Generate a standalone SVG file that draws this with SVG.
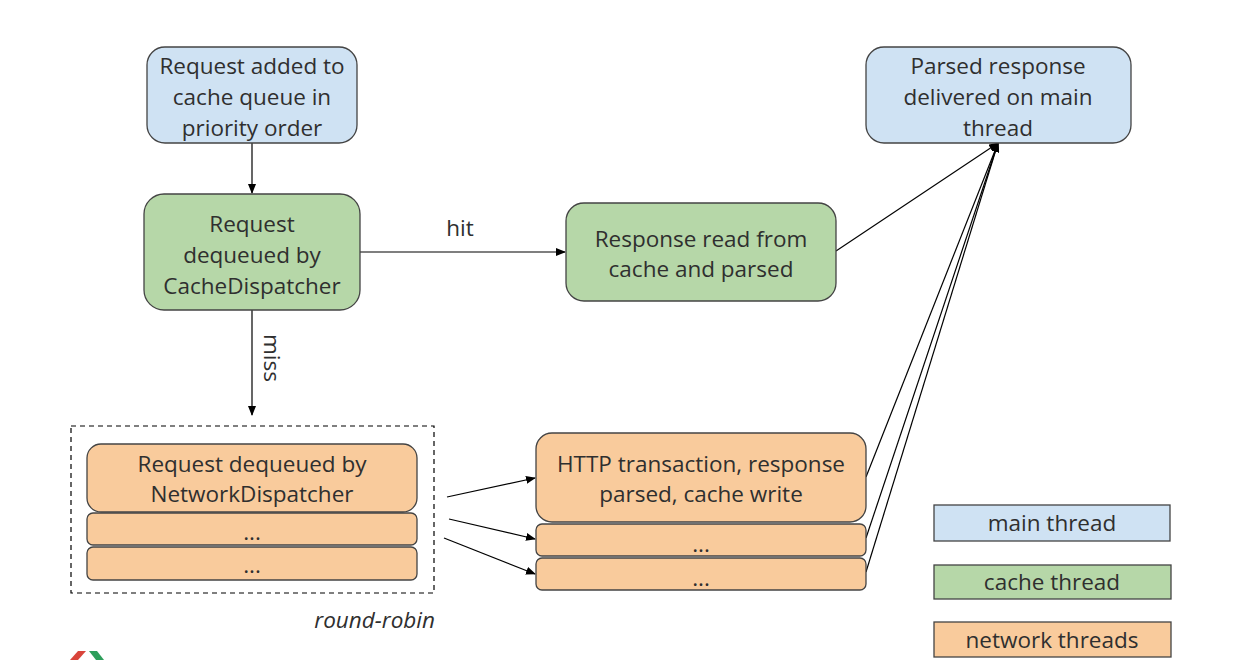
<svg xmlns="http://www.w3.org/2000/svg" width="1242" height="660" viewBox="0 0 1242 660">
<defs>
<marker id="ah" markerWidth="10" markerHeight="8" refX="9" refY="4" orient="auto" markerUnits="userSpaceOnUse">
<path d="M0,0 L10,4 L0,8 Z" fill="#000"/>
</marker>
<style>
.t{font-family:"Open Sans","Noto Sans",sans-serif;font-size:22.5px;fill:#2f2f2f;text-anchor:middle;dominant-baseline:central}
.box{stroke:#444;stroke-width:1.3}
.blue{fill:#cfe2f3}.green{fill:#b6d7a8}.orange{fill:#f9cb9c}
.c{stroke:#000;stroke-width:1.2;fill:none}
</style>
</defs>
<rect width="1242" height="660" fill="#fff"/>
<g id="connectors">
<line class="c" x1="252" y1="143" x2="252" y2="193" marker-end="url(#ah)"/>
<line class="c" x1="360" y1="252" x2="565" y2="252" marker-end="url(#ah)"/>
<line class="c" x1="252" y1="310" x2="252" y2="415" marker-end="url(#ah)"/>
<line class="c" x1="836" y1="251" x2="998" y2="143" marker-end="url(#ah)"/>
<line class="c" x1="866" y1="477" x2="998" y2="143" marker-end="url(#ah)"/>
<line class="c" x1="866" y1="538" x2="998" y2="143" marker-end="url(#ah)"/>
<line class="c" x1="866" y1="572" x2="998" y2="143" marker-end="url(#ah)"/>
<line class="c" x1="447" y1="497" x2="535" y2="478" marker-end="url(#ah)"/>
<line class="c" x1="449" y1="519" x2="535" y2="539" marker-end="url(#ah)"/>
<line class="c" x1="444" y1="538" x2="535" y2="574" marker-end="url(#ah)"/>
<text class="t" x="460" y="227">hit</text>
<text class="t" transform="translate(272,358) rotate(90)">miss</text>
</g>
<g id="n1">
<rect class="box blue" x="147" y="47" width="210" height="96" rx="18"/>
<text class="t" x="252" y="65">Request added to</text>
<text class="t" x="252" y="96">cache queue in</text>
<text class="t" x="252" y="127">priority order</text>
</g>
<g id="n2">
<rect class="box green" x="144" y="194" width="216" height="116" rx="20"/>
<text class="t" x="252" y="223">Request</text>
<text class="t" x="252" y="254">dequeued by</text>
<text class="t" x="252" y="285">CacheDispatcher</text>
</g>
<g id="n3">
<rect class="box green" x="566" y="203" width="270" height="98" rx="18"/>
<text class="t" x="701" y="238">Response read from</text>
<text class="t" x="701" y="268">cache and parsed</text>
</g>
<g id="n4">
<rect class="box blue" x="866" y="47" width="265" height="96" rx="18"/>
<text class="t" x="998" y="65">Parsed response</text>
<text class="t" x="998" y="96">delivered on main</text>
<text class="t" x="998" y="127">thread</text>
</g>
<g id="roundrobin">
<rect x="71" y="426" width="363" height="167" fill="none" stroke="#000" stroke-width="1.2" stroke-dasharray="5,4"/>
<text class="t" x="435" y="619" style="text-anchor:end;font-style:italic">round-robin</text>
</g>
<g id="n5">
<rect class="box orange" x="87" y="444" width="330" height="68" rx="14"/>
<text class="t" x="252" y="463">Request dequeued by</text>
<text class="t" x="252" y="493">NetworkDispatcher</text>
</g>
<g id="n6">
<rect class="box orange" x="87" y="513" width="330" height="32" rx="6"/>
<text class="t" x="252" y="531">...</text>
</g>
<g id="n7">
<rect class="box orange" x="87" y="547" width="330" height="33" rx="6"/>
<text class="t" x="252" y="564">...</text>
</g>
<g id="n8">
<rect class="box orange" x="536" y="433" width="330" height="89" rx="16"/>
<text class="t" x="701" y="463">HTTP transaction, response</text>
<text class="t" x="701" y="493">parsed, cache write</text>
</g>
<g id="n9">
<rect class="box orange" x="536" y="524" width="330" height="32" rx="6"/>
<text class="t" x="701" y="543">...</text>
</g>
<g id="n10">
<rect class="box orange" x="536" y="558" width="330" height="32" rx="6"/>
<text class="t" x="701" y="577">...</text>
</g>
<g id="legend-main">
<rect class="box blue" x="934" y="505" width="236" height="36"/>
<text class="t" x="1052" y="522">main thread</text>
</g>
<g id="legend-cache">
<rect class="box green" x="934" y="565" width="237" height="34"/>
<text class="t" x="1052" y="581">cache thread</text>
</g>
<g id="legend-network">
<rect class="box orange" x="934" y="622" width="237" height="35"/>
<text class="t" x="1052" y="639">network threads</text>
</g>
<g id="logo">
<polygon points="70,660 78,651 86,651 78,660" fill="#d9453b"/>
<polygon points="89,651 97,651 104,660 96,660" fill="#2e9e5b"/>
</g>
</svg>
